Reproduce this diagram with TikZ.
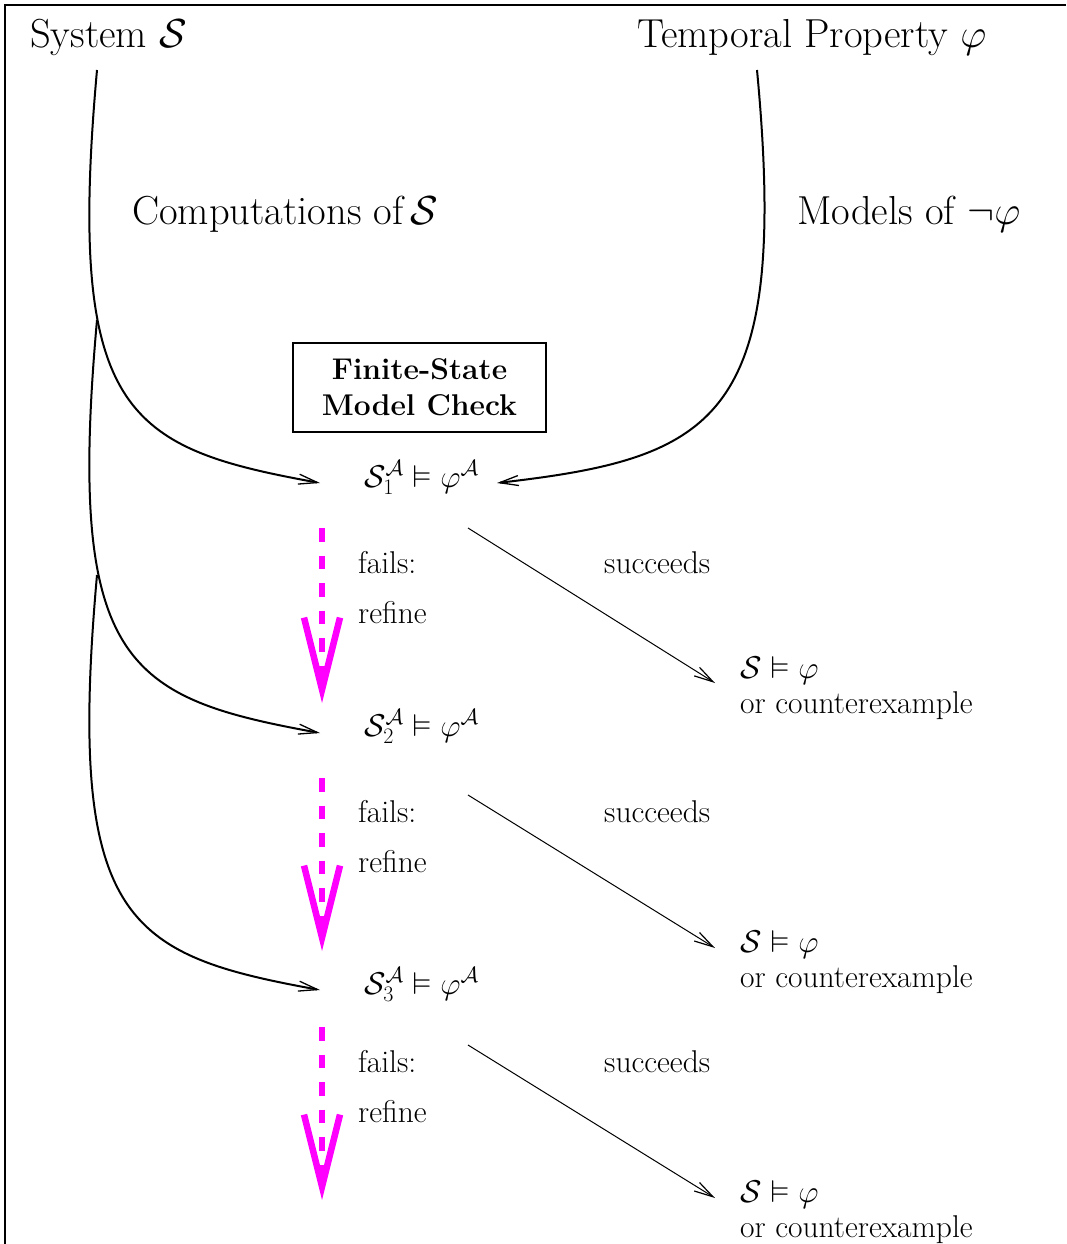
\RequirePackage{fix-cm}
\documentclass[tikz,border=0pt]{standalone}
\usepackage{amsmath,amssymb}
\usetikzlibrary{arrows.meta}
\definecolor{refmag}{RGB}{255,0,255}
\begin{document}
\begin{tikzpicture}[x=1pt,y=-1pt,
  big/.style={font=\fontsize{40.5}{49}\selectfont, inner sep=0pt},
  small/.style={font=\fontsize{31.5}{38}\selectfont, inner sep=0pt},
  curvearr/.style={line width=2pt, -{Straight Barb[length=19pt,width=10pt,line width=1.3pt]}},
  thinarr/.style={line width=1pt, -{Straight Barb[length=19pt,width=10pt,line width=1.2pt]}},
  refinearr/.style={refmag, line width=6.3pt, dash pattern=on 13.5pt off 14pt,
     -{Straight Barb[length=72pt,width=36pt,line width=6.5pt]}},
  mcbox/.style={draw, line width=2pt, minimum width=253pt, minimum height=89pt,
     align=center, inner sep=0pt, font=\fontsize{30}{36}\selectfont\bfseries}
]
\useasboundingbox (0,0) rectangle (1066,1244);
% frame
\coordinate (fbl) at (5,1244);
\coordinate (ftl) at (5,5);
\coordinate (ftr) at (1066,5);
\draw[line width=2.2pt] (fbl) -- (ftl) -- (ftr);

% titles
\node[big, anchor=base west] (sys) at (30,48) {System $\mathcal{S}$};
\node[big, anchor=base west] (prop) at (637,48) {Temporal Property $\varphi$};
\node[big, anchor=base west] (comp) at (132,224) {Computations of\,$\mathcal{S}$};
\node[big, anchor=base west] (mod) at (797,224) {Models of $\neg\varphi$};

\node[mcbox] (box) at (419.5,387) {Finite-State\\Model Check};

% formulas
\node[small, anchor=base west] (f1) at (364,487) {$\mathcal{S}_1^{\mathcal{A}} \vDash \varphi^{\mathcal{A}}$};
\node[small, anchor=base west] (f2) at (364,736) {$\mathcal{S}_2^{\mathcal{A}} \vDash \varphi^{\mathcal{A}}$};
\node[small, anchor=base west] (f3) at (364,994) {$\mathcal{S}_3^{\mathcal{A}} \vDash \varphi^{\mathcal{A}}$};

% anchor coordinates
\coordinate (sA) at (97,70);
\coordinate (sB) at (97,320);
\coordinate (sC) at (97,575);
\coordinate (pA) at (757,70);
\coordinate (in1) at (320,483);
\coordinate (in2) at (320,733);
\coordinate (in3) at (320,990);
\coordinate (in1r) at (497,483);

\draw[curvearr] (sA) .. controls (66,415) and (127,448) .. (in1);
\draw[curvearr] (sB) .. controls (66,665) and (127,698) .. (in2);
\draw[curvearr] (sC) .. controls (66,922) and (127,955) .. (in3);
\draw[curvearr] (pA) .. controls (790,420) and (716,458) .. (in1r);

% refine arrows
\coordinate (r1s) at (322,528); \coordinate (r1e) at (322,703);
\coordinate (r2s) at (322,778); \coordinate (r2e) at (322,951);
\coordinate (r3s) at (322,1027); \coordinate (r3e) at (322,1200);
\draw[refinearr] (r1s) -- (r1e);
\draw[refinearr] (r2s) -- (r2e);
\draw[refinearr] (r3s) -- (r3e);

\node[small, anchor=base west] (fa1) at (358,573) {fails:};
\node[small, anchor=base west] (re1) at (358,623) {refine};
\node[small, anchor=base west] (fa2) at (358,822) {fails:};
\node[small, anchor=base west] (re2) at (358,872) {refine};
\node[small, anchor=base west] (fa3) at (358,1072) {fails:};
\node[small, anchor=base west] (re3) at (358,1122) {refine};

\node[small, anchor=base west] (su1) at (604,573) {succeeds};
\node[small, anchor=base west] (su2) at (604,822) {succeeds};
\node[small, anchor=base west] (su3) at (604,1072) {succeeds};

% succeed arrows
\coordinate (t1s) at (468,528); \coordinate (t1e) at (715,683);
\coordinate (t2s) at (468,795); \coordinate (t2e) at (715,948);
\coordinate (t3s) at (468,1045); \coordinate (t3e) at (715,1198);
\draw[thinarr] (t1s) -- (t1e);
\draw[thinarr] (t2s) -- (t2e);
\draw[thinarr] (t3s) -- (t3e);

\node[small, anchor=base west] (res1) at (740,678) {$\mathcal{S}\vDash\varphi$};
\node[small, anchor=base west] (ce1) at (740,713) {or counterexample};
\node[small, anchor=base west] (res2) at (740,952) {$\mathcal{S}\vDash\varphi$};
\node[small, anchor=base west] (ce2) at (740,987) {or counterexample};
\node[small, anchor=base west] (res3) at (740,1202) {$\mathcal{S}\vDash\varphi$};
\node[small, anchor=base west] (ce3) at (740,1237) {or counterexample};
\end{tikzpicture}
\end{document}
